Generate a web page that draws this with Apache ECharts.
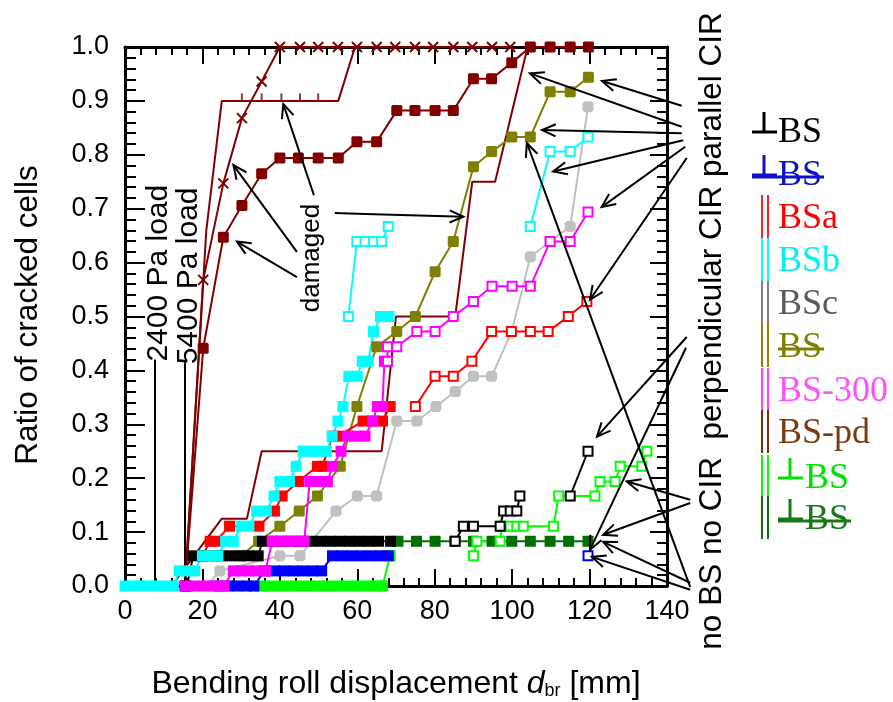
<!DOCTYPE html>
<html>
<head>
<meta charset="utf-8">
<script src="https://cdn.jsdelivr.net/npm/echarts@6/dist/echarts.min.js"></script>
<style>
  html, body { margin: 0; padding: 0; background: #fff; }
  #chart { width: 893px; height: 702px; }
</style>
</head>
<body>
<div id="chart"></div>
<script>
// x: bending roll displacement d_br [mm], y: ratio of cracked cells

const xTicks = [0, 20, 40, 60, 80, 100, 120, 140];
const yTicks = [0, 0.1, 0.2, 0.3, 0.4, 0.5, 0.6, 0.7, 0.8, 0.9, 1.0];

// BSa (red)
const bsaFilled = [[20,0.056],[22,0.083],[23.5,0.083],[27,0.111],[34.6,0.111],[38.6,0.139],[40.6,0.167],[44.8,0.194],[49.7,0.222],[51,0.222],[53.6,0.278],[55,0.278],[61.5,0.306],[64,0.306],[66.5,0.306],[68.5,0.333]];
const bsaOpen = [[75,0.333],[80.1,0.389],[84.8,0.389],[89.6,0.417],[94.7,0.472],[99.8,0.472],[104.7,0.472],[109.3,0.472],[114.5,0.5],[119.3,0.528]];

// BSb (cyan)
const bsbFilled = [[0,0],[2,0],[4,0],[6,0],[8,0],[10,0],[12.5,0],[14,0.028],[16,0.028],[18,0.028],[20,0.056],[22,0.056],[24,0.056],[26,0.083],[28,0.083],[30,0.111],[32,0.111],[34,0.139],[36.5,0.139],[38.5,0.167],[40,0.194],[42.5,0.194],[44.2,0.222],[46,0.25],[48,0.25],[50,0.25],[52,0.25],[53.5,0.278],[55,0.306],[56.3,0.333],[57.8,0.389],[60,0.389],[61.3,0.417],[62.8,0.417],[64.2,0.472],[66,0.5],[68.2,0.5]];
const bsbOpenA = [[57.7,0.5],[59.9,0.639],[62,0.639],[64.2,0.639],[66.3,0.639],[68,0.667]];
const bsbOpenB = [[104.7,0.667],[109.8,0.806],[115,0.806],[119.6,0.833]];

// BSc (grey)
const bscFilled = [[21,0],[24.5,0.028],[40,0.056],[45.2,0.056],[54.5,0.139],[60,0.167],[65,0.167],[70.2,0.306],[75.4,0.306],[80.3,0.333],[85.3,0.361],[90,0.389],[94.7,0.389],[99.9,0.472],[104.7,0.611],[109.8,0.639],[115,0.667],[119.6,0.889]];

// BS without busbar (olive)
const noBsFilled = [[30,0.056],[34.5,0.083],[40,0.111],[45,0.139],[49.7,0.167],[55.6,0.222],[59.9,0.333],[65,0.444],[70.2,0.472],[75,0.5],[80.1,0.583],[84.8,0.639],[90,0.778],[94.7,0.806],[99.9,0.833],[104.7,0.833],[109.8,0.917],[115,0.917],[119.7,0.944]];

// BS-300 (magenta)
const bs300Filled = [[15.5,0],[18,0],[20.5,0],[23,0],[25.5,0],[28,0.028],[30,0.028],[32,0.028],[34,0.028],[36.3,0.028],[38,0.083],[40,0.083],[42,0.083],[44,0.083],[46.3,0.083],[47.7,0.194],[50,0.194],[52.3,0.194],[53.6,0.222],[55.8,0.25],[57.5,0.278],[60,0.278],[62,0.278],[64,0.306],[65.2,0.333],[66.5,0.333],[67,0.417]];
const bs300Open = [[67.8,0.417],[67.8,0.444],[70.2,0.444],[75.4,0.472],[80.1,0.472],[84.8,0.5],[90,0.528],[94.8,0.556],[100,0.556],[104.7,0.556],[109.8,0.639],[115,0.639],[119.6,0.694]];

// BS-pd (dark red)
const bsPdSquares = [[15.5,0],[20.2,0.441],[25.4,0.647],[30.2,0.706],[35.3,0.765],[40,0.794],[44.8,0.794],[49.9,0.794],[55.1,0.794],[59.9,0.824],[65,0.824],[70.2,0.882],[74.9,0.882],[80.1,0.882],[84.8,0.882],[90,0.941],[94.7,0.941],[99.9,0.971],[104.7,1],[109.8,1],[115,1],[119.7,1]];
const bsPdCrosses = [[15.5,0],[20.2,0.568],[25.4,0.747],[30.2,0.868],[35.3,0.936],[40,1],[45.2,1],[49.9,1],[55,1],[59.9,1],[65,1],[69.8,1],[74.9,1],[79.6,1],[84.8,1],[89.7,1],[94.8,1],[99.5,1]];
const damagedA = [[15.5,0],[21,0.66],[25,0.9],[55.1,0.9],[59.4,1],[100,1]];
const damagedATicks = [[30.2,0.9],[35.3,0.9],[40.4,0.9],[45.2,0.9],[49.9,0.9]];
const damagedB = [[12,0],[25,0.125],[31.5,0.125],[35.3,0.25],[66.3,0.25],[70,0.5],[85.3,0.5],[89.7,0.75],[95.6,0.75],[104,1],[120,1]];

// perpendicular BS (black)
const perpBsFilled = [[16,0],[17.6,0.056],[20,0.056],[22.5,0.056],[25,0.056],[27.3,0.056],[29.7,0.056],[32,0.056],[34.4,0.056],[35.5,0.083],[38,0.083],[40.5,0.083],[43,0.083],[45.5,0.083],[48,0.083],[50.5,0.083],[53,0.083],[55.5,0.083],[58,0.083],[60.5,0.083],[63,0.083],[65.5,0.083],[68.6,0.083]];
const perpBsOpenA = [[85.3,0.083],[87.4,0.111],[90,0.111],[96.9,0.111],[97.8,0.139],[99.5,0.139],[101.2,0.139],[102,0.167]];
const perpBsOpenB = [[115,0.167],[119.6,0.25]];

// perpendicular, no BS (blue)
const perpNoBsFilled = [[24,0],[26.5,0],[29,0],[31.5,0],[33.3,0],[36,0.028],[38.6,0.028],[41,0.028],[43.5,0.028],[46,0.028],[48.5,0.028],[50.8,0.028],[53.6,0.056],[56,0.056],[58.5,0.056],[61,0.056],[63.5,0.056],[66,0.056],[68,0.056]];
const perpNoBsOpen = [[119.6,0.056]];

// no CIR, BS (green)
const noCirBsFilled = [[35,0],[37.5,0],[40,0],[42.5,0],[45,0],[47.5,0],[50,0],[52.5,0],[55,0],[57.5,0],[60,0],[62.5,0],[65,0],[66.5,0],[68.5,0.056]];
const noCirBsOpen = [[90,0.056],[90.9,0.083],[96.9,0.083],[97.3,0.111],[99.5,0.111],[101.2,0.111],[102.9,0.111],[110.7,0.111],[112,0.167],[121.4,0.167],[122.7,0.194],[126.6,0.194],[127.9,0.222],[133.5,0.222],[134.8,0.25]];

// no CIR, no BS (dark green)
const noCirNoBs = [[70.5,0.083],[75.3,0.083],[80.1,0.083],[85.2,0.083],[90,0.083],[94.8,0.083],[99.9,0.083],[104.7,0.083],[109.8,0.083],[114.6,0.083],[119.6,0.083]];

// load marks: [x, top of line]
const loadMarks = [[7.75, 0.42], [15.5, 0.415]];
const loadLabels = ['2400 Pa load', '5400 Pa load'];

// annotation arrows in data units: tail ... head
const annotationArrows = [
  [[143.8,0.891],[123.2,0.937]],
  [[143.8,0.852],[104.6,0.951]],
  [[143.8,0.840],[107.7,0.846]],
  [[144.2,0.827],[110.6,0.769]],
  [[144.7,0.815],[123.1,0.703]],
  [[145.1,0.794],[120.1,0.531]],
  [[145.1,0.462],[121.9,0.277]],
  [[144.9,0.442],[120.1,0.067]],
  [[146,0.160],[129.6,0.194]],
  [[146,0.154],[123.5,0.095]],
  [[146,0.006],[123.5,0.082]],
  [[146,-0.007],[120.6,0.054]],
  [[146,-0.002],[103.8,0.822]],
  [[48.8,0.725],[40.9,0.894]],
  [[44.4,0.620],[28.0,0.781]],
  [[44.4,0.573],[28.9,0.639]],
  [[54.2,0.692],[62.0,0.690],[87.4,0.685]]
];

// legend entries
const legendText = ['BS','BS','BSa','BSb','BSc','BS','BS-300','BS-pd','BS','BS'];
const legendTextColor = ['#000000','#1010c8','#ff0000','#00f0f0','#5a5a5a','#808000','#ff50ff','#7a3a10','#00e000','#157a15'];
const legendBarColor = [null,null,'#ff2020','#00ffff','#808080','#908000','#ff40ff','#7a3010','#00ff00','#107010'];
const legendPerp = [true,true,false,false,false,false,false,false,true,true];
const legendStrike = [false,true,false,false,false,true,false,false,false,true];

const C = {
  red: '#ff0000', cyan: '#00ffff', grey: '#c0c0c0', olive: '#808000',
  magenta: '#ff00ff', darkred: '#800000', black: '#000000', blue: '#0000ff',
  green: '#00ff00', dkgreen: '#006f00'
};

// squares with clipped corners
const chamfered = 'path://M2,0L8,0L10,2L10,8L8,10L2,10L0,8L0,2Z';
const softSquare = 'path://M1,0L9,0L10,1L10,9L9,10L1,10L0,9L0,1Z';

function filled(name, data, color, sym) {
  return {
    name, type: 'line', data, symbol: sym || 'rect', symbolSize: 11,
    lineStyle: { color, width: 2 }, itemStyle: { color, borderWidth: 0 },
    showAllSymbol: true, animation: false, z: 3
  };
}
function open(name, data, color) {
  return {
    name, type: 'line', data, symbol: 'emptyRect', symbolSize: 9,
    lineStyle: { color, width: 2 }, itemStyle: { color, borderColor: color, borderWidth: 2 },
    showAllSymbol: true, animation: false, z: 3
  };
}
function plain(name, data, color, width) {
  return {
    name, type: 'line', data, symbol: 'none',
    lineStyle: { color, width: width || 2 }, animation: false, z: 3
  };
}

const series = [
  plain('damaged B', damagedB, C.darkred),
  plain('damaged A', damagedA, C.darkred),
  {
    name: 'damaged A ticks', type: 'scatter', data: damagedATicks, symbol: 'rect',
    symbolSize: [2, 7], symbolOffset: [0, -4], itemStyle: { color: C.darkred }, animation: false, z: 3
  },
  {
    name: 'BS-pd x', type: 'line', data: bsPdCrosses,
    symbol: 'path://M0,0L10,10M10,0L0,10', symbolSize: 10,
    lineStyle: { color: C.darkred, width: 2 },
    itemStyle: { color: C.darkred, borderColor: C.darkred, borderWidth: 2 },
    showAllSymbol: true, animation: false, z: 3
  },
  filled('BS-pd', bsPdSquares, C.darkred, softSquare),
  filled('BSc', bscFilled, C.grey, chamfered),
  filled('noBS', noBsFilled, C.olive, softSquare),
  filled('BSa', bsaFilled, C.red),
  open('BSa open', bsaOpen, C.red),
  filled('noCIR noBS', noCirNoBs, C.dkgreen),
  filled('noCIR BS', noCirBsFilled, C.green),
  open('noCIR BS open', noCirBsOpen, C.green),
  filled('perp noBS', perpNoBsFilled, C.blue),
  open('perp noBS open', perpNoBsOpen, C.blue),
  filled('perp BS', perpBsFilled, C.black),
  open('perp BS open A', perpBsOpenA, C.black),
  open('perp BS open B', perpBsOpenB, C.black),
  filled('BSb', bsbFilled, C.cyan),
  open('BSb open A', bsbOpenA, C.cyan),
  open('BSb open B', bsbOpenB, C.cyan),
  filled('BS-300', bs300Filled, C.magenta),
  open('BS-300 open', bs300Open, C.magenta)
];

loadMarks.forEach((m, i) => {
  series.push(plain('load ' + i, [[m[0], 0], [m[0], m[1]]], '#000', 2));
});

const axisFont = 'Liberation Sans, Arial, sans-serif';
const frame = { show: true, onZero: false, lineStyle: { color: '#000', width: 3 } };

const option = {
  backgroundColor: '#fff',
  animation: false,
  grid: { left: 125, right: 226, top: 47, bottom: 116, containLabel: false },
  xAxis: [
    {
      type: 'value', position: 'bottom', min: 0, max: 140, interval: 20,
      axisLine: frame,
      axisTick: { show: true, inside: true, length: 17, lineStyle: { color: '#000', width: 2 } },
      minorTick: { show: true, splitNumber: 5, length: 8, lineStyle: { color: '#000', width: 2 } },
      splitLine: { show: false },
      axisLabel: { color: '#000', fontSize: 27, fontFamily: axisFont, margin: 12,
        formatter: v => xTicks.includes(v) ? String(v) : '' }
    },
    {
      type: 'value', position: 'top', min: 0, max: 140, interval: 20,
      axisLine: frame,
      axisTick: { show: true, inside: true, length: 17, lineStyle: { color: '#000', width: 2 } },
      minorTick: { show: true, splitNumber: 5, length: 8, lineStyle: { color: '#000', width: 2 } },
      splitLine: { show: false }, axisLabel: { show: false }
    }
  ],
  yAxis: [
    {
      type: 'value', position: 'left', min: 0, max: 1, interval: 0.1,
      axisLine: frame,
      axisTick: { show: true, inside: true, length: 20, lineStyle: { color: '#000', width: 2 } },
      minorTick: { show: true, splitNumber: 5, length: 11, lineStyle: { color: '#000', width: 2 } },
      splitLine: { show: false },
      axisLabel: { color: '#000', fontSize: 27, fontFamily: axisFont, margin: 16,
        formatter: v => {
          const t = yTicks.find(k => Math.abs(k - v) < 1e-9);
          return t === undefined ? '' : t.toFixed(1);
        } }
    },
    {
      type: 'value', position: 'right', min: 0, max: 1, interval: 0.1,
      axisLine: frame,
      axisTick: { show: true, inside: true, length: 17, lineStyle: { color: '#000', width: 2 } },
      minorTick: { show: true, splitNumber: 5, length: 10, lineStyle: { color: '#000', width: 2 } },
      splitLine: { show: false }, axisLabel: { show: false }
    }
  ],
  series
};

const chart = echarts.init(document.getElementById('chart'), null, { renderer: 'canvas' });
chart.setOption(option);

// ---- annotations, titles and legend ----
const px = p => chart.convertToPixel({ gridIndex: 0 }, p);
const graphics = [];

function arrowShape(pts) {
  const ppts = pts.map(px);
  graphics.push({ type: 'polyline', shape: { points: ppts }, style: { stroke: '#000', lineWidth: 2, fill: null }, z: 50 });
  const h = ppts[ppts.length - 1], p = ppts[ppts.length - 2];
  const a = Math.atan2(p[1] - h[1], p[0] - h[0]);
  const L = 15, s = 0.42;
  graphics.push({
    type: 'polyline',
    shape: { points: [
      [h[0] + L * Math.cos(a + s), h[1] + L * Math.sin(a + s)],
      h,
      [h[0] + L * Math.cos(a - s), h[1] + L * Math.sin(a - s)]
    ] },
    style: { stroke: '#000', lineWidth: 2, fill: null }, z: 50
  });
}
annotationArrows.forEach(arrowShape);

const sans = 'Liberation Sans, Arial, sans-serif';
const serif = 'Liberation Serif, Times New Roman, serif';

function vtext(text, x, y, size) {
  graphics.push({
    type: 'text', x, y, rotation: Math.PI / 2, z: 60,
    style: { text, font: size + 'px ' + sans, fill: '#000', align: 'center', verticalAlign: 'middle' }
  });
}

// load labels above the vertical marks
loadMarks.forEach((m, i) => {
  const top = px([m[0], m[1]]);
  graphics.push({
    type: 'text', x: top[0] + 4, y: top[1] + 2, rotation: Math.PI / 2, z: 60,
    style: { text: loadLabels[i], font: '30px ' + sans, fill: '#000', align: 'left', verticalAlign: 'middle' }
  });
});

vtext('damaged', 312, 258, 26);
vtext('no BS no CIR  perpendicular CIR parallel CIR', 712, 331, 31.5);
vtext('Ratio of cracked cells', 28, 315, 31.5);

graphics.push({
  type: 'text', x: 396, y: 684, z: 60,
  style: {
    text: 'Bending roll displacement {i|d}{s|br} [mm]',
    font: '32px ' + sans, fill: '#000', align: 'center', verticalAlign: 'middle',
    rich: {
      i: { font: 'italic 32px ' + sans, fill: '#000' },
      s: { font: '18px ' + sans, fill: '#000', verticalAlign: 'bottom', padding: [14, 0, 0, 0] }
    }
  }
});

// legend
const rowY = [131, 174, 217, 260, 303, 346, 390, 432, 477, 518];
legendText.forEach((t, i) => {
  const y = rowY[i];
  const col = legendTextColor[i];
  let tx = 778;
  if (legendBarColor[i]) {
    [762, 768].forEach(bx => graphics.push({
      type: 'line', shape: { x1: bx, y1: y - 22, x2: bx, y2: y + 21 },
      style: { stroke: legendBarColor[i], lineWidth: 2 }, z: 60
    }));
  }
  if (legendPerp[i]) {
    const x0 = legendBarColor[i] ? 778 : 752;
    graphics.push({ type: 'line', shape: { x1: x0 + 12, y1: y - 19, x2: x0 + 12, y2: y + 1 }, style: { stroke: col, lineWidth: 3 }, z: 60 });
    graphics.push({ type: 'line', shape: { x1: x0, y1: y + 1, x2: x0 + 25, y2: y + 1 }, style: { stroke: col, lineWidth: 3 }, z: 60 });
    if (legendBarColor[i]) tx = 805;
  }
  graphics.push({
    type: 'text', x: tx, y: y + 2, z: 60,
    style: { text: t, font: '36px ' + serif, fill: col, align: 'left', verticalAlign: 'middle' }
  });
  if (legendStrike[i]) {
    const w = t.length * 23;
    const sx = legendPerp[i] && !legendBarColor[i] ? 752 : tx - (legendPerp[i] ? 27 : 0);
    graphics.push({ type: 'line', shape: { x1: sx, y1: y + 3, x2: tx + w, y2: y + 3 }, style: { stroke: col, lineWidth: 3 }, z: 61 });
  }
});

chart.setOption({ graphic: graphics });
</script>
</body>
</html>
